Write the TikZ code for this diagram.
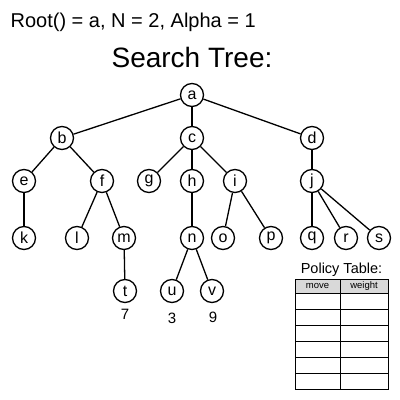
\documentclass[tikz,border=0pt]{standalone}
\usepackage{fontspec}
\setmainfont{Liberation Sans}
\begin{document}
\begin{tikzpicture}[x=1pt, y=-1pt, line width=1.3pt,
        vertex/.style={draw, circle, minimum size=23pt, inner sep=0pt, fill=white, font=\fontsize{16}{18}\selectfont},
        score/.style={font=\fontsize{15}{17}\selectfont},
        cellhead/.style={font=\fontsize{9.5}{11}\selectfont}]
        \useasboundingbox (0,0) rectangle (400,400);
        % header texts
        \node[anchor=base west, inner sep=0pt, font=\fontsize{20}{24}\selectfont] (info) at (10,27) {Root() = a, N = 2, Alpha = 1};
        \node[anchor=base, inner sep=0pt, font=\fontsize{28}{32}\selectfont] (title) at (192,67) {Search Tree:};
        % tree
        \node[vertex] (a) at (192,95) {a};
        \node[vertex] (b) at (62,138) {b};
        \node[vertex] (c) at (192,138) {c};
        \node[vertex] (d) at (312,138) {d};
        \node[vertex] (e) at (24,181) {e};
        \node[vertex] (f) at (102,181) {f};
        \node[vertex] (g) at (149,181) {g};
        \node[vertex] (h) at (192,181) {h};
        \node[vertex] (i) at (235,181) {i};
        \node[vertex] (j) at (312,181) {j};
        \node[vertex] (k) at (24,238) {k};
        \node[vertex] (l) at (77,238) {l};
        \node[vertex] (m) at (124,238) {m};
        \node[vertex] (n) at (192,238) {n};
        \node[vertex] (o) at (223,238) {o};
        \node[vertex] (p) at (271,238) {p};
        \node[vertex] (q) at (312,238) {q};
        \node[vertex] (r) at (346,238) {r};
        \node[vertex] (s) at (379,238) {s};
        \node[vertex] (t) at (125,291) {t};
        \node[vertex] (u) at (172,291) {u};
        \node[vertex] (v) at (212,291) {v};
        \draw (a)--(b);
        \draw (a)--(c);
        \draw (a)--(d);
        \draw (b)--(e);
        \draw (b)--(f);
        \draw (c)--(g);
        \draw (c)--(h);
        \draw (c)--(i);
        \draw (d)--(j);
        \draw (e)--(k);
        \draw (f)--(l);
        \draw (f)--(m);
        \draw (h)--(n);
        \draw (i)--(o);
        \draw (i)--(p);
        \draw (j)--(q);
        \draw (j)--(r);
        \draw (j)--(s);
        \draw (m)--(t);
        \draw (n)--(u);
        \draw (n)--(v);
        \node[score] (tval) at (125,314) {7};
        \node[score] (uval) at (172,318) {3};
        \node[score] (vval) at (213,317) {9};
        % policy table
        \node[anchor=base, inner sep=0pt, font=\fontsize{14.5}{17}\selectfont] (ptitle) at (341.5,273) {Policy Table:};
        \fill[gray!30] (295,279) rectangle (388,293);
        \draw[line width=0.9pt] (295,279) rectangle (388,389);
        \draw[line width=0.9pt] (340,279)--(340,389);
        \foreach \yy in {293,309,325,341,357,373}
            \draw[line width=0.9pt] (295,\yy)--(388,\yy);
        \node[cellhead] (move) at (317.5,286) {move};
        \node[cellhead] (weight) at (364,286) {weight};
    \end{tikzpicture}
\end{document}
